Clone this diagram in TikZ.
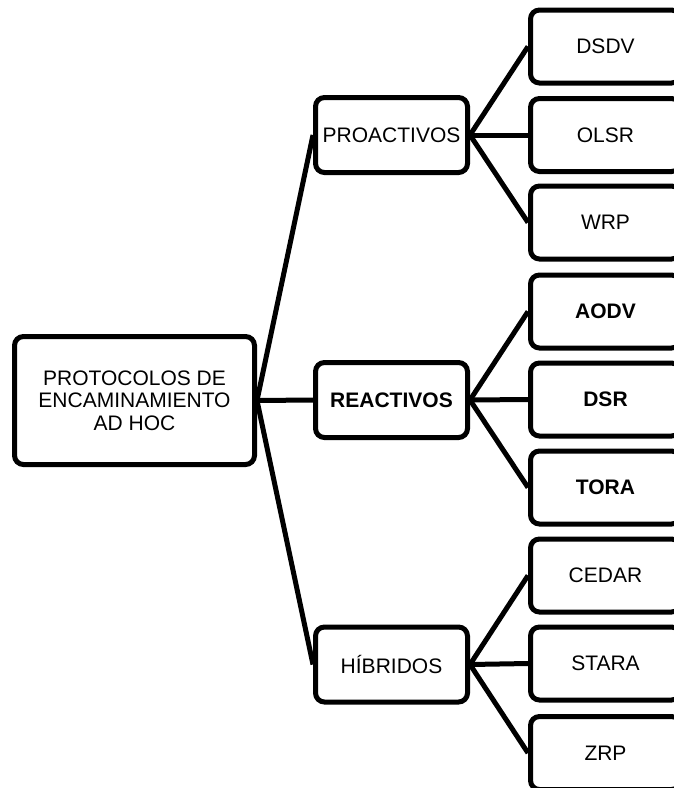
\documentclass[tikz,border=0pt]{standalone}
\usepackage{fontspec}
\setmainfont{Liberation Sans}
\begin{document}
\begin{tikzpicture}[x=1pt,y=-1pt,
  box/.style={draw, line width=5pt, rounded corners=9pt, align=center,
    inner sep=0pt, font=\fontsize{21}{22.5}\selectfont},
  rootbox/.style={box, minimum width=240pt, minimum height=128pt},
  midbox/.style={box, minimum width=152pt, minimum height=75pt},
  leafbox/.style={box, minimum width=150pt, minimum height=73pt},
  strong/.style={font=\fontsize{21}{22.5}\selectfont\bfseries},
  link/.style={line width=5pt}]
\useasboundingbox (0,0) rectangle (674,788);
\clip (0,0) rectangle (674,788);

% root
\node[rootbox] (root) at (134.5,400.5) {PROTOCOLOS DE\\ENCAMINAMIENTO\\AD HOC};

% families
\node[midbox] (pro) at (391.5,135) {PROACTIVOS};
\node[midbox, strong] (rea) at (391.5,400) {REACTIVOS};
\node[midbox] (hib) at (391.5,664.5) {HÍBRIDOS};

% protocols
\node[leafbox] (dsdv) at (605.5,46.5) {DSDV};
\node[leafbox] (olsr) at (605.5,135) {OLSR};
\node[leafbox] (wrp) at (605.5,222.5) {WRP};
\node[leafbox, strong] (aodv) at (605.5,311.5) {AODV};
\node[leafbox, strong] (dsr) at (605.5,399.5) {DSR};
\node[leafbox, strong] (tora) at (605.5,487.5) {TORA};
\node[leafbox] (cedar) at (605.5,575.5) {CEDAR};
\node[leafbox] (stara) at (605.5,663.5) {STARA};
\node[leafbox] (zrp) at (605.5,753) {ZRP};

% connectors
\foreach \m in {pro,rea,hib}
  \draw[link] (root.east) -- (\m.west);
\foreach \l in {dsdv,olsr,wrp}
  \draw[link] (pro.east) -- (\l.west);
\foreach \l in {aodv,dsr,tora}
  \draw[link] (rea.east) -- (\l.west);
\foreach \l in {cedar,stara,zrp}
  \draw[link] (hib.east) -- (\l.west);
\end{tikzpicture}
\end{document}
